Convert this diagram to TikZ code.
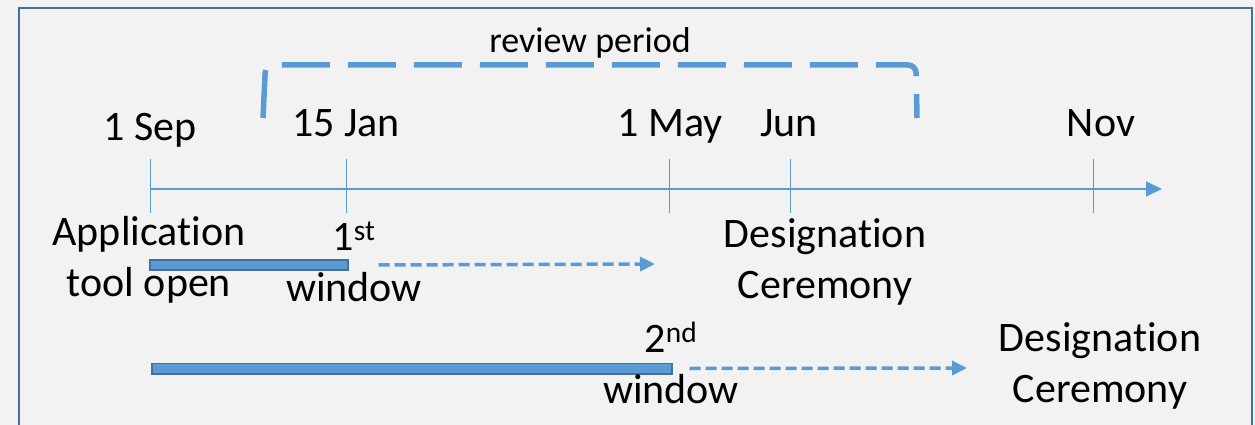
\documentclass[tikz,border=0pt]{standalone}
\usepackage{fontspec}
\setmainfont[Ligatures=NoCommon]{Carlito}
\usetikzlibrary{arrows.meta,positioning,calc}
\definecolor{lineblue}{HTML}{5B9BD5}
\definecolor{edgeblue}{HTML}{41719C}
\definecolor{paper}{HTML}{F2F2F2}

\begin{document}
\begin{tikzpicture}[x=1pt, y=-1pt,
    datelabel/.style={font=\fontsize{42}{51}\selectfont, inner sep=0pt, anchor=base},
    twoline/.style={font=\fontsize{42}{51}\selectfont, inner sep=0pt, align=center, anchor=base},
    tick/.style={lineblue, line width=1pt},
    windowbar/.style={draw=edgeblue, fill=lineblue, line width=1.5pt, inner sep=0pt, anchor=west},
    laterarrow/.style={lineblue, line width=3.5pt, dash pattern=on 11pt off 5pt, -{Triangle[length=15pt, width=14pt]}}]
    % Page and frame
    \clip (0,0) rectangle (1255,425);
    \fill[paper] (0,0) rectangle (1255,425);
    \draw[edgeblue, line width=2pt] (19,440) -- (19,8) -- (1252,8) -- (1252,440);

    % Time axis
    \coordinate (sep) at (150,189);
    \coordinate (jan) at (346,189);
    \coordinate (may) at (669,189);
    \coordinate (jun) at (790,189);
    \coordinate (nov) at (1093,189);
    \coordinate (axisend) at (1162,189);
    \draw[lineblue, line width=1.5pt, -{Triangle[length=16pt, width=15pt]}] (sep) -- (axisend);
    \draw[tick] ($(sep)+(0,-30)$) -- ($(sep)+(0,24)$);
    \draw[tick] ($(jan)+(0,-30)$) -- ($(jan)+(0,24)$);
    \draw[tick] ($(may)+(0,-30)$) -- ($(may)+(0,24)$);
    \draw[tick] ($(jun)+(0,-30)$) -- ($(jun)+(0,24)$);
    \draw[tick] ($(nov)+(0,-30)$) -- ($(nov)+(0,24)$);

    % Dates
    \node[datelabel] (seplabel) at (150,140) {1 Sep};
    \node[datelabel] (janlabel) at (346,137) {15 Jan};
    \node[datelabel] (maylabel) at (670,137) {1 May};
    \node[datelabel] (junlabel) at (789,137) {Jun};
    \node[datelabel] (novlabel) at (1101,137) {Nov};

    % Review period
    \draw[lineblue, line width=5.5pt, dash pattern=on 48pt off 18pt, rounded corners=8pt]
        (263,118) -- (265.5,65) -- (916,65) -- (917,118);
    \node[font=\fontsize{36}{43}\selectfont, inner sep=0pt, anchor=base] (review) at (590,53) {review period};

    % First window (base anchor sits on the last line)
    \node[windowbar, minimum width=198pt, minimum height=10pt] (bar1) at (149,265) {};
    \coordinate (firstend) at (655,264);
    \draw[laterarrow] ([xshift=30pt]bar1.east) -- (firstend);
    \node[twoline] (opening) at (149,296.5) {Application\\tool open};
    \node[twoline] (firstwin) at (354,301) {1\textsuperscript{st}\\window};
    \node[twoline] (ceremony1) at (825,298) {Designation\\Ceremony};

    % Second window
    \node[windowbar, minimum width=520pt, minimum height=10.5pt] (bar2) at (151,368.5) {};
    \coordinate (secondend) at (967,368);
    \draw[laterarrow] ([xshift=17pt]bar2.east) -- (secondend);
    \node[twoline] (secondwin) at (671,403) {2\textsuperscript{nd}\\window};
    \node[twoline] (ceremony2) at (1100,402) {Designation\\Ceremony};
\end{tikzpicture}
\end{document}
